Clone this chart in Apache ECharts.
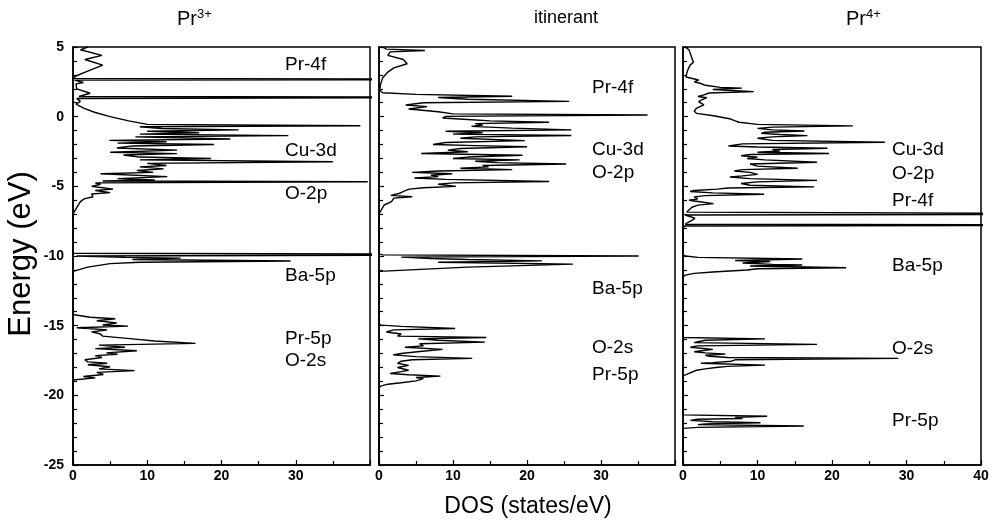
<!DOCTYPE html>
<html>
<head>
<meta charset="utf-8">
<script src="https://cdn.jsdelivr.net/npm/echarts@6/dist/echarts.min.js"></script>
<style>
  html, body { margin: 0; padding: 0; background: #fff; }
  #main { width: 996px; height: 521px; }
</style>
</head>
<body>
<div id="main"></div>
<script>
  // energies (eV) and DOS (states/eV), top to bottom
  var pr3Energy = [5.0, 4.8, 4.4, 4.1, 3.7, 3.25, 2.9, 2.75, 2.68, 2.62, 2.45, 2.35, 2.0, 1.68, 1.45, 1.38, 1.3,
    1.1, 0.9, 0.6, 0.3, 0.0, -0.3, -0.55, -0.65, -0.72, -0.85, -0.95, -1.05, -1.15, -1.25, -1.36, -1.45,
    -1.6, -1.7, -1.8, -1.9, -2.0, -2.1, -2.25, -2.4, -2.55, -2.65, -2.75, -2.9, -3.0, -3.1, -3.24, -3.35,
    -3.5, -3.6, -3.75, -3.86, -4.0, -4.1, -4.3, -4.45, -4.55, -4.62, -4.67, -4.75, -4.85, -5.0, -5.1, -5.2,
    -5.3, -5.45, -5.55, -5.75, -5.9, -6.1, -6.35, -6.7, -7.0,
    -9.8, -9.9, -10.0, -10.1, -10.15, -10.25, -10.36, -10.45, -10.55, -10.8, -11.1,
    -14.2, -14.4, -14.5, -14.65, -14.8, -14.95, -15.03, -15.15, -15.3, -15.45, -15.6, -15.75, -15.95, -16.1,
    -16.27, -16.4, -16.55, -16.65, -16.8, -16.95, -17.05, -17.15, -17.28, -17.45, -17.6, -17.7, -17.8, -17.95,
    -18.1, -18.23, -18.35, -18.5, -18.65, -18.75, -18.9, -25.0];
  var pr3Dos = [2.0, 1.0, 3.9, 1.6, 4.0, 1.9, 0.3, 0.1, 70, 0.2, 1.4, 0.4, 0.5, 2.3, 0.8, 70, 0.5,
    1.0, 0.4, 1.5, 3.0, 5.0, 7.5, 10, 38.7, 9, 12, 22.3, 10, 17, 9, 29, 8.4,
    21.2, 4.9, 12.6, 6, 19, 8, 5.9, 14, 5, 14, 6.8, 9, 18.6, 9, 35, 10,
    12.6, 9, 12.2, 8.6, 10.8, 3.7, 12.7, 6, 11, 4, 39.7, 3, 3.7, 2.5, 4, 5.4,
    3, 5, 2.5, 2.7, 1.5, 1.0, 0.7, 0.3, 0,
    0, 70, 0.5, 7, 14.5, 8, 29.3, 9, 5, 2, 0,
    0, 2.3, 5.7, 3.2, 5.9, 4, 7.4, 0.5, 4.6, 2.5, 3.7, 4, 8, 11,
    16.5, 3.5, 7.0, 3, 8.6, 4.5, 6, 3, 3.9, 1.6, 2, 4.6, 2, 5,
    3.5, 8.3, 3.2, 4.1, 1.4, 3, 0, 0];

  var itinEnergy = [5.0, 4.85, 4.75, 4.65, 4.4, 4.1, 3.8, 3.5, 3.2, 2.8, 2.3, 1.9, 1.72, 1.6, 1.47, 1.38, 1.25,
    1.1, 1.0, 0.84, 0.72, 0.55, 0.35, 0.2, 0.12, 0.02, -0.1, -0.2, -0.3, -0.4, -0.5, -0.6, -0.7, -0.82,
    -0.95, -1.05, -1.15, -1.25, -1.35, -1.45, -1.55, -1.72, -1.85, -2.0, -2.08, -2.16, -2.28, -2.4, -2.52,
    -2.64, -2.77, -2.9, -3.0, -3.1, -3.2, -3.3, -3.4, -3.5, -3.6, -3.7, -3.8, -3.9, -4.0, -4.1, -4.2,
    -4.3, -4.4, -4.5, -4.65, -4.75, -4.85, -5.0, -5.1, -5.2, -5.35, -5.5, -5.65, -5.75, -5.85, -6.1,
    -6.34, -6.7, -7.0,
    -9.85, -9.92, -10.0, -10.08, -10.18, -10.25, -10.35, -10.45, -10.58, -10.8, -11.1,
    -14.9, -14.96, -15.05, -15.2, -15.3, -15.45, -15.6, -15.75, -15.85, -15.95, -16.05, -16.18, -16.3,
    -16.45, -16.55, -16.7, -16.85, -17.0, -17.1, -17.22, -17.35, -17.45, -17.55, -17.7, -17.85, -18.0,
    -18.2, -18.3, -18.43, -18.52, -18.62, -18.72, -18.8, -18.96, -19.1, -19.2, -19.34, -19.5, -25.0];
  var itinDos = [0.5, 1.0, 6.2, 1.5, 1.2, 3.3, 3.8, 2.0, 1.2, 0.5, 0.2, 0.1, 0.5, 5, 18, 8, 12,
    25.7, 6, 3.6, 6.5, 4, 8, 10, 36.3, 9, 8.6, 12, 15, 23, 13, 14, 12.5, 18,
    26, 9, 14, 10, 26, 13, 11, 19.7, 9, 7.3, 13, 20, 11, 9.3, 12,
    5.7, 19.4, 12, 10, 19, 13, 16, 25.3, 14, 14.8, 11, 18, 8, 4.5, 9.9, 7,
    8, 4.8, 9, 23, 10, 8, 10.4, 6, 4.1, 3.4, 2.8, 1.6, 4.5, 2.0, 1.7,
    0.7, 0.3, 0,
    0, 0.5, 35.1, 3, 7, 12, 22, 8, 26.2, 12, 0,
    0, 0.3, 3, 10.3, 2, 1, 3, 2.5, 14.5, 5.3, 8, 14.3, 5.5,
    6, 3.5, 8.6, 5.5, 3, 1.9, 5, 12.6, 4.5, 3, 2.5, 4, 2.5,
    4, 3, 1.5, 4, 8.3, 5, 6, 5, 3, 1.2, 0.2, 0, 0];

  var pr4Energy = [5.0, 4.8, 4.5, 4.2, 3.9, 3.7, 3.3, 2.85, 2.75, 2.63, 2.5, 2.4, 2.25, 2.1, 2.05, 1.95, 1.8,
    1.7, 1.55, 1.45, 1.36, 1.2, 1.08, 0.95, 0.84, 0.7, 0.6, 0.4, 0.24, 0.07, -0.17, -0.3, -0.4, -0.55,
    -0.66, -0.75, -0.84, -0.95, -1.03, -1.12, -1.2, -1.28, -1.36, -1.45, -1.55, -1.7, -1.84, -1.95, -2.1,
    -2.18, -2.27, -2.36, -2.46, -2.55, -2.64, -2.72, -2.8, -2.9, -3.0, -3.1, -3.27, -3.4, -3.55, -3.7,
    -3.8, -3.9, -4.0, -4.14, -4.25, -4.33, -4.45, -4.57, -4.68, -4.8, -4.92, -5.04, -5.12, -5.2, -5.3,
    -5.37, -5.47, -5.57, -5.67, -5.76, -5.9, -6.0, -6.12, -6.24, -6.35, -6.5, -6.7, -6.85, -6.92, -6.99,
    -7.06, -7.15, -7.28, -7.45, -7.6, -7.72, -7.78, -7.85, -8.0,
    -9.9, -10.0, -10.1, -10.22, -10.32, -10.4, -10.5, -10.6, -10.65, -10.72, -10.84, -10.92, -11.0,
    -11.15, -11.25, -11.37, -11.5,
    -15.85, -15.95, -16.05, -16.15, -16.22, -16.34, -16.45, -16.55, -16.7, -16.8, -16.87, -16.95, -17.04,
    -17.12, -17.2, -17.28, -17.35, -17.45, -17.55, -17.65, -17.7, -17.83, -17.92, -18.0, -18.1, -18.2,
    -18.43, -18.6,
    -21.4, -21.5, -21.58, -21.66, -21.72, -21.8, -21.9, -21.97, -22.05, -22.1, -22.2, -22.3, -22.37, -25.0];
  var pr4Dos = [0.3, 0.8, 1.0, 1.2, 1.4, 0.95, 0.6, 0.4, 0.5, 2.1, 1.5, 2.3, 3, 5, 7.9, 4, 9.5,
    3.5, 2.7, 2.0, 3.2, 2.5, 2.1, 2.0, 2.8, 2.2, 1.8, 1.5, 1.8, 4.1, 6.4, 7.0, 7.5, 10,
    22.8, 12, 10, 12, 16.3, 11, 10.5, 13, 16.7, 12, 10, 12, 27.1, 8, 6.1,
    10, 19.4, 12, 13, 10, 19.6, 9, 7.8, 10, 8.6, 11, 18, 9, 10, 15.4,
    8, 6.9, 9, 10, 8, 6.3, 9, 18, 10, 7.8, 9, 17.6, 6, 4.6, 1.5,
    0.95, 4, 10.9, 3, 1.5, 2.0, 0.8, 2.5, 4.1, 2, 1.2, 0.8, 0.5, 0.3, 70,
    0.3, 0.8, 1.6, 1.2, 0.6, 0.3, 70, 0.2, 0,
    0, 0.3, 2, 16, 7, 11.7, 8, 12, 16, 9, 21.9, 10, 8.6,
    4, 1.5, 0.3, 0,
    0, 11, 3, 2, 1.5, 18, 2, 1, 4, 2.5, 1.5, 3, 5.7,
    3, 3.6, 6, 28.9, 7, 6.5, 4, 2.4, 11.0, 6, 4.4, 3, 1.8,
    0.8, 0,
    0, 11.3, 7, 8, 2, 1.0, 4, 10.4, 3, 2, 16.2, 2, 0, 0];

  var panelTitles = ['Pr', 'itinerant', 'Pr'];
  var titleSups = ['3+', '', '4+'];
  var dosTicks = [0, 10, 20, 30, 40];

  function pairs(es, ds) {
    var out = [];
    for (var i = 0; i < es.length; i++) out.push([ds[i], es[i]]);
    return out;
  }

  var FONT = "'Liberation Sans', Arial, Helvetica, sans-serif";
  var panels = [
    { left: 73, width: 297, data: pairs(pr3Energy, pr3Dos), last: false },
    { left: 379, width: 296, data: pairs(itinEnergy, itinDos), last: false },
    { left: 683, width: 298, data: pairs(pr4Energy, pr4Dos), last: true }
  ];

  var grids = [], xAxes = [], yAxes = [], series = [];
  panels.forEach(function (p, i) {
    grids.push({
      left: p.left, width: p.width, top: 47, height: 418,
      show: true, borderColor: '#000', borderWidth: 1.5, backgroundColor: 'transparent'
    });
    xAxes.push({
      type: 'value', gridIndex: i, min: 0, max: 40, interval: 10,
      axisLine: { show: true, onZero: false, lineStyle: { color: '#000', width: 1.5 } },
      axisTick: { show: true, inside: true, length: 5, lineStyle: { color: '#000', width: 1.2 } },
      minorTick: { show: true, splitNumber: 2, length: 4, lineStyle: { color: '#000', width: 1.2 } },
      splitLine: { show: false },
      axisLabel: {
        color: '#000', fontFamily: FONT, fontSize: 14, fontWeight: 'bold', margin: 4,
        formatter: function (v) {
          if (dosTicks.indexOf(v) < 0) return '';
          return (v === 40 && !p.last) ? '' : String(v);
        }
      }
    });
    yAxes.push({
      type: 'value', gridIndex: i, min: -25, max: 5, interval: 5,
      axisLine: { show: true, onZero: false, lineStyle: { color: '#000', width: 1.5 } },
      axisTick: { show: true, inside: true, length: 5, lineStyle: { color: '#000', width: 1.2 } },
      minorTick: { show: true, splitNumber: 5, length: 4, lineStyle: { color: '#000', width: 1.2 } },
      splitLine: { show: false },
      axisLabel: {
        show: i === 0, color: '#000', fontFamily: FONT, fontSize: 14, fontWeight: 'bold', margin: 9
      }
    });
    series.push({
      type: 'line', xAxisIndex: i, yAxisIndex: i, data: p.data,
      showSymbol: false, symbol: 'none', clip: true, animation: false,
      lineStyle: { color: '#000', width: 1.4 }
    });
  });

  function label(x, y, t, size) {
    return {
      type: 'text', left: x, top: y - size / 2 - 1,
      style: { text: t, fill: '#000', font: size + 'px ' + FONT }
    };
  }

  var graphics = [
    // panel titles
    { type: 'text', left: 177, top: 9, style: { text: panelTitles[0], fill: '#000', font: '20px ' + FONT } },
    { type: 'text', left: 197, top: 8, style: { text: titleSups[0], fill: '#000', font: '13px ' + FONT } },
    { type: 'text', left: 534, top: 9, style: { text: panelTitles[1], fill: '#000', font: '18px ' + FONT } },
    { type: 'text', left: 846, top: 9, style: { text: panelTitles[2], fill: '#000', font: '20px ' + FONT } },
    { type: 'text', left: 866, top: 8, style: { text: titleSups[2], fill: '#000', font: '13px ' + FONT } },
    // band labels
    label(285, 66, 'Pr-4f', 19), label(285, 152, 'Cu-3d', 19), label(285, 195, 'O-2p', 19),
    label(285, 277, 'Ba-5p', 19), label(285, 340, 'Pr-5p', 19), label(285, 362, 'O-2s', 19),
    label(592, 89, 'Pr-4f', 19), label(592, 151, 'Cu-3d', 19), label(592, 174, 'O-2p', 19),
    label(592, 290, 'Ba-5p', 19), label(592, 349, 'O-2s', 19), label(592, 376, 'Pr-5p', 19),
    label(892, 151, 'Cu-3d', 19), label(892, 175, 'O-2p', 19), label(892, 202, 'Pr-4f', 19),
    label(892, 267, 'Ba-5p', 19), label(892, 350, 'O-2s', 19), label(892, 422, 'Pr-5p', 19),
    // axis titles
    {
      type: 'text', x: 21, y: 254, rotation: Math.PI / 2,
      style: { text: 'Energy (eV)', fill: '#000', font: '31px ' + FONT, align: 'center', verticalAlign: 'middle' }
    },
    {
      type: 'text', x: 528, y: 507,
      style: { text: 'DOS (states/eV)', fill: '#000', font: '23px ' + FONT, align: 'center', verticalAlign: 'middle' }
    }
  ];

  var chart = echarts.init(document.getElementById('main'));
  chart.setOption({
    animation: false,
    backgroundColor: '#fff',
    grid: grids,
    xAxis: xAxes,
    yAxis: yAxes,
    series: series,
    graphic: graphics
  });
</script>
</body>
</html>
